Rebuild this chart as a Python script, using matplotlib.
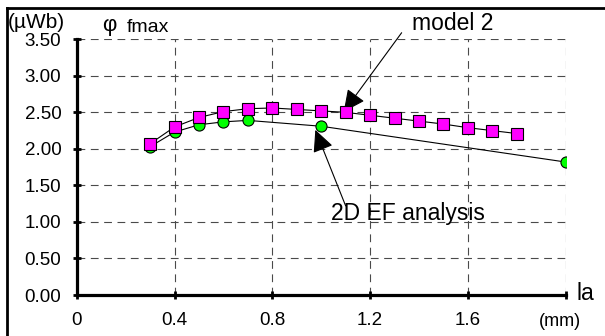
import numpy as np
import matplotlib.pyplot as plt
from matplotlib.lines import Line2D

plt.rcParams['font.family'] = ['Liberation Sans', 'DejaVu Sans']

# model 2 (squares)
la_model = [0.3, 0.4, 0.5, 0.6, 0.7, 0.8, 0.9, 1.0, 1.1, 1.2, 1.3, 1.4, 1.5, 1.6, 1.7, 1.8]
phi_model = [2.07, 2.30, 2.43, 2.51, 2.55, 2.56, 2.54, 2.52, 2.50, 2.46, 2.42, 2.38, 2.34, 2.29, 2.25, 2.21]

# 2D EF analysis (circles)
la_ef = [0.3, 0.4, 0.5, 0.6, 0.7, 1.0, 2.0]
phi_ef = [2.03, 2.23, 2.33, 2.37, 2.39, 2.31, 1.82]

xticks = [0, 0.4, 0.8, 1.2, 1.6, 2.0]
xtick_labels = ['0', '0.4', '0.8', '1.2', '1.6', '']
yticks = [0, 0.5, 1.0, 1.5, 2.0, 2.5, 3.0, 3.5]
ytick_labels = ['%.2f' % v for v in yticks]

W, H = 605, 336
fig = plt.figure(figsize=(W / 100, H / 100), dpi=100)
ax = fig.add_axes([76.7 / W, 1 - 295 / H, (565.7 - 76.7) / W, (295 - 39.3) / H])

ax.plot(la_ef, phi_ef, color='black', lw=0.8, marker='o', ms=8,
        mfc='#00ff00', mec='black', mew=0.8, zorder=3)
ax.plot(la_model, phi_model, color='black', lw=0.8, marker='s', ms=9,
        mfc='#ff00ff', mec='black', mew=0.8, zorder=4)

ax.set_xlim(0, 2.0)
ax.set_ylim(0, 3.5)
ax.set_xticks(xticks, xtick_labels, fontsize=13.5)
ax.set_yticks(yticks, ytick_labels, fontsize=13.5)
ax.tick_params(direction='inout', length=6, width=2, pad=8)
ax.tick_params(axis='x', pad=9)

ax.grid(True, color='#4a4a4a', lw=0.8, linestyle=(0, (7, 5)))
for side in ['top', 'right']:
    ax.spines[side].set_visible(False)
for side in ['left', 'bottom']:
    ax.spines[side].set_linewidth(2.3)

# annotations
arrow = dict(arrowstyle='-|>,head_length=1.35,head_width=0.65', color='black',
             lw=0.8, mutation_scale=10, shrinkA=0, shrinkB=0)
ax.annotate('', xy=(1.092, 2.507), xytext=(1.329, 3.59), arrowprops=arrow,
            annotation_clip=False)
ax.annotate('', xy=(0.976, 2.26), xytext=(1.10, 1.22), arrowprops=arrow,
            annotation_clip=False)
ax.text(1.04, 1.12, '2D EF analysis', fontsize=16.5, ha='left', va='center')

fig.text(412 / W, 1 - 23 / H, 'model 2', fontsize=16.5, ha='left', va='center')
fig.text(8 / W, 1 - 23 / H, '(µWb)', fontsize=15, ha='left', va='center')
fig.text(109 / W, 1 - 25 / H, 'φ', fontsize=16, ha='center', va='center')
fig.text(127 / W, 1 - 28 / H, 'fmax', fontsize=14, ha='left', va='center')
fig.text(577 / W, 1 - 293 / H, 'la', fontsize=16.5, ha='left', va='center')
fig.text(560 / W, 1 - 322 / H, '(mm)', fontsize=13, ha='center', va='center')

# figure frame (top and left edges)
fig.add_artist(Line2D([7 / W, 7 / W], [0, 1 - 8 / H], color='black', lw=2, transform=fig.transFigure))
fig.add_artist(Line2D([7 / W, 1], [1 - 8 / H, 1 - 8 / H], color='black', lw=2, transform=fig.transFigure))

fig.savefig('out.png', dpi=100)
